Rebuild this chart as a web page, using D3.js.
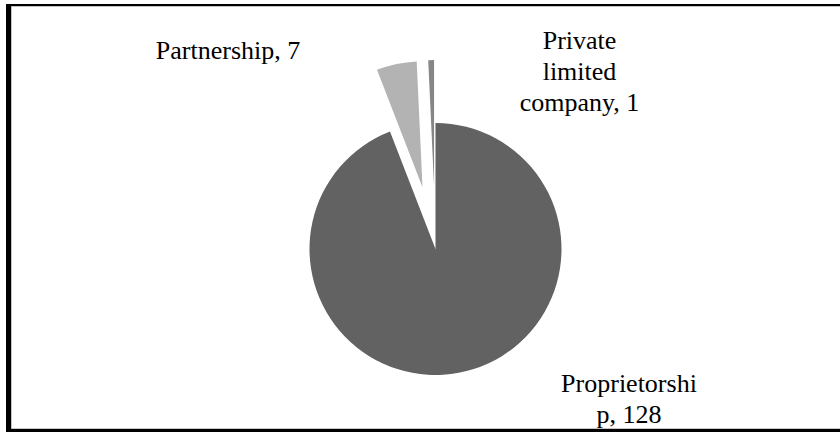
<!DOCTYPE html>
<html>
<head>
<meta charset="utf-8">
<script src="https://cdn.jsdelivr.net/npm/d3@7/dist/d3.min.js"></script>
<style>
  html, body { margin: 0; padding: 0; background: #fff; }
  svg { display: block; }
  text { font-family: "Liberation Serif", "Times New Roman", serif; fill: #000; }
</style>
</head>
<body>
<svg id="chart" width="840" height="432"></svg>
<script>
// Business ownership types and their counts
const categories = ["Proprietorship", "Partnership", "Private limited company"];
const values = [128, 7, 1];
// Data label text, one entry per line
const labelLines = [
  ["Proprietorshi", "p, 128"],
  ["Partnership, 7"],
  ["Private", "limited", "company, 1"]
];
const sliceColors = ["#626262", "#b3b3b3", "#868686"];
const exploded = [false, true, true];

const W = 840, H = 432;
const svg = d3.select("#chart");

// Frame around the chart area
svg.append("rect").attr("x", 11).attr("y", 6).attr("width", 840).attr("height", 423)
  .attr("fill", "none").attr("stroke", "#8a8a8a").attr("stroke-width", 1);
svg.append("rect").attr("x", 6).attr("y", 4).attr("width", 5).attr("height", 428).attr("fill", "#000");
svg.append("rect").attr("x", 6).attr("y", 4).attr("width", 834).attr("height", 2).attr("fill", "#000");
svg.append("rect").attr("x", 6).attr("y", 429).attr("width", 834).attr("height", 3).attr("fill", "#000");

const cx = 435.5, cy = 249, radius = 126;
const explodeDist = radius * 0.5;

const data = categories.map((c, i) => ({ category: c, value: values[i], i }));

const pie = d3.pie().sort(null).value(d => d.value).startAngle(0).endAngle(2 * Math.PI);
const arc = d3.arc().innerRadius(0).outerRadius(radius);

const g = svg.append("g").attr("transform", `translate(${cx},${cy})`);

g.selectAll("path.slice")
  .data(pie(data))
  .join("path")
  .attr("class", "slice")
  .attr("d", arc)
  .attr("fill", d => sliceColors[d.data.i])
  .attr("transform", d => {
    if (!exploded[d.data.i]) return null;
    const mid = (d.startAngle + d.endAngle) / 2;
    return `translate(${Math.sin(mid) * explodeDist},${-Math.cos(mid) * explodeDist})`;
  });

// Label anchors relative to the pie centre (x = line centre, y = first baseline)
const labelAnchor = [
  { dx: 193.5, dy: 142.7 },
  { dx: -207.5, dy: -189.7 },
  { dx: 144, dy: -199.7 }
];
const lineHeight = 31;

const labels = svg.append("g").attr("transform", `translate(${cx},${cy})`);
labelLines.forEach((lines, i) => {
  const t = labels.append("text")
    .attr("text-anchor", "middle")
    .attr("font-size", 26)
    .attr("x", labelAnchor[i].dx)
    .attr("y", labelAnchor[i].dy);
  lines.forEach((ln, k) => {
    t.append("tspan")
      .attr("x", labelAnchor[i].dx)
      .attr("dy", k === 0 ? 0 : lineHeight)
      .text(ln);
  });
});
</script>
</body>
</html>
